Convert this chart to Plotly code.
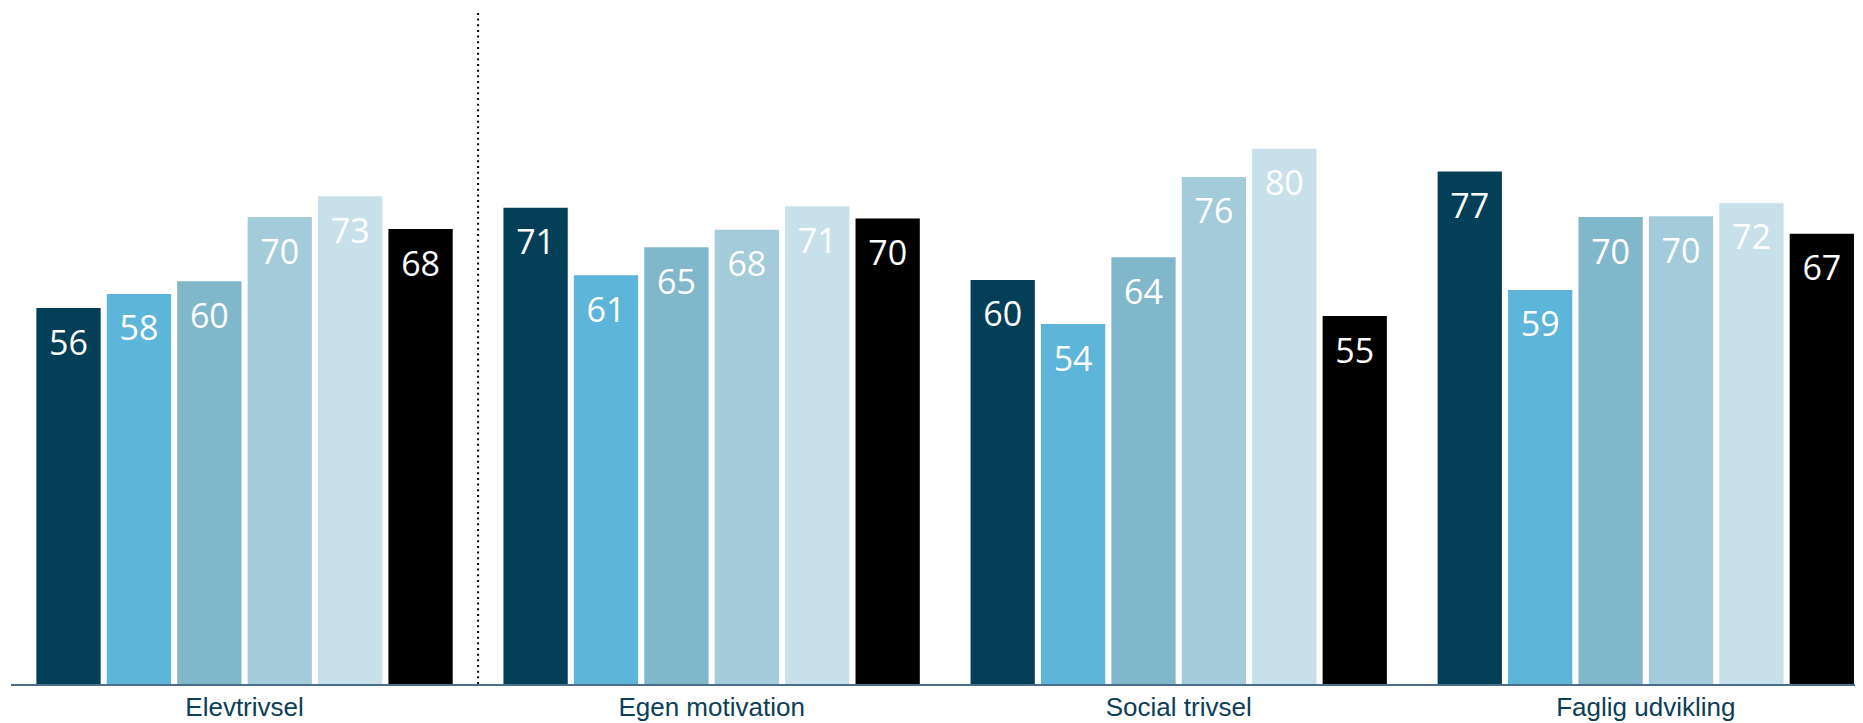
import plotly.graph_objects as go

categories = ["Elevtrivsel", "Egen motivation", "Social trivsel", "Faglig udvikling"]

series_names = ["Gruppe 1", "Gruppe 2", "Gruppe 3", "Gruppe 4", "Gruppe 5", "Samlet"]
series_1 = [56.2, 71.2, 60.4, 76.6]
series_2 = [58.3, 61.1, 53.8, 58.9]
series_3 = [60.2, 65.3, 63.8, 69.8]
series_4 = [69.8, 67.9, 75.8, 69.9]
series_5 = [72.9, 71.4, 80.0, 71.9]
series_6 = [68.0, 69.6, 55.0, 67.3]
all_series = [series_1, series_2, series_3, series_4, series_5, series_6]

colors = ["#033f57", "#5eb5da", "#80b7cb", "#a3cbd9", "#c8e0ea", "#000000"]

BARGAP = 0.0955
fig = go.Figure()
for name, vals, col in zip(series_names, all_series, colors):
    fig.add_trace(go.Bar(
        x=categories, y=vals, name=name, marker=dict(color=col, line=dict(width=0)),
        hoverinfo="skip",
    ))
for name, vals in zip(series_names, all_series):
    fig.add_trace(go.Scatter(
        x=categories, y=vals, name=name, mode="markers+text",
        marker=dict(size=32, opacity=0),
        text=[f"{v:.0f}" for v in vals], textposition="bottom center",
        textfont=dict(family="Open Sans, Noto Sans, sans-serif", size=34, color="#ffffff"),
        hoverinfo="skip", showlegend=False,
    ))

fig.add_shape(type="line", xref="x", yref="paper", x0=0.5, x1=0.5, y0=0, y1=1.003,
              line=dict(color="#000000", width=2, dash="2px,3.67px"))

fig.update_layout(
    width=1855, height=715,
    margin=dict(l=3, r=0, t=7, b=39),
    paper_bgcolor="#ffffff", plot_bgcolor="#ffffff",
    barmode="group", bargap=BARGAP, bargroupgap=0.087,
    scattermode="group", scattergap=BARGAP,
    showlegend=False,
    xaxis=dict(range=[-0.5, 3.465], showline=True, linecolor="#4a6e8c", linewidth=1.5,
               ticks="", showgrid=False, zeroline=False, ticklabelstandoff=-1,
               tickfont=dict(family="Liberation Sans, Arial, sans-serif", size=26, color="#0b3e57")),
    yaxis=dict(range=[0, 100], visible=False, showgrid=False, zeroline=False),
)

fig.write_html("out.html")
